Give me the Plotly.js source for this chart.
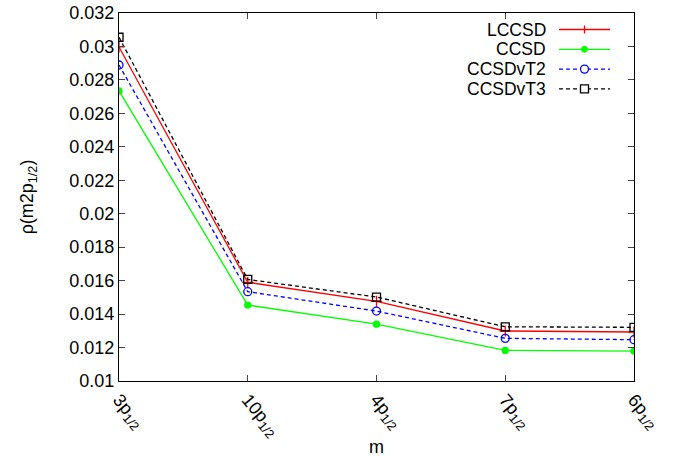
<!DOCTYPE html>
<html><head><meta charset="utf-8">
<script src="https://cdn.plot.ly/plotly-3.0.1.min.js"></script>
<style>body{margin:0;background:#fff}#chart{width:673px;height:457px}</style>
</head><body><div id="chart"></div>
<script>
const categories = ['3p<sub>1/2</sub>','10p<sub>1/2</sub>','4p<sub>1/2</sub>','7p<sub>1/2</sub>','6p<sub>1/2</sub>'];
const seriesNames = ['LCCSD','CCSD','CCSDvT2','CCSDvT3'];
const lccsd    = [0.02997, 0.01590, 0.01476, 0.01299, 0.01293];
const ccsd     = [0.02734, 0.01454, 0.01340, 0.01183, 0.01179];
const ccsdvt2  = [0.02889, 0.01534, 0.01418, 0.01255, 0.01247];
const ccsdvt3  = [0.03055, 0.01607, 0.01502, 0.01324, 0.01321];

const colors = ['#ff0000','#00ff00','#0000ff','#000000'];
const dashes = ['solid','solid','4px,3px','4px,3px'];
const symbols = ['cross-thin','circle','circle-open','square-open'];
const sizes = [8,6,8,8];
const values = [lccsd, ccsd, ccsdvt2, ccsdvt3];

const xs = categories.map((c,i)=>i);
const font = {family:'Liberation Sans, Arial, sans-serif', size:18, color:'#000'};
const legFont = {family:'Liberation Sans, Arial, sans-serif', size:17.5, color:'#000'};
const data = values.map((y,k)=>({x:xs, y:y, name:seriesNames[k], type:'scatter', mode:'lines+markers',
    showlegend:false,
    line:{color:colors[k], width:1.3, dash:dashes[k]},
    marker:{symbol:symbols[k], size:sizes[k], color:colors[k], line:{color:colors[k], width:1.3}}}));

// custom legend (text right-aligned, key sample to the right), in paper coordinates
const L = 119, W = 515, T = 13, H = 368;
const px = v => (v - L) / W, py = v => 1 - (v - T) / H;
const rowY = [29.5, 49.3, 69.1, 88.9];
const annotations = [], shapes = [];
seriesNames.forEach((n,k)=>{
  annotations.push({xref:'paper', yref:'paper', x:px(547), y:py(rowY[k]), xanchor:'right', yanchor:'middle',
    text:n, showarrow:false, font:legFont, borderpad:0});
  shapes.push({type:'line', xref:'paper', yref:'paper', x0:px(559), x1:px(610), y0:py(rowY[k]), y1:py(rowY[k]),
    line:{color:colors[k], width:1.3, dash:dashes[k]}});
});
const cx = px(584.5);
shapes.push({type:'line', xref:'paper', yref:'paper', xsizemode:'pixel', ysizemode:'pixel', xanchor:cx, yanchor:py(rowY[0]),
  x0:0, x1:0, y0:-4, y1:4, line:{color:colors[0], width:1.3}});
shapes.push({type:'circle', xref:'paper', yref:'paper', xsizemode:'pixel', ysizemode:'pixel', xanchor:cx, yanchor:py(rowY[1]),
  x0:-3, x1:3, y0:-3, y1:3, fillcolor:colors[1], line:{color:colors[1], width:1}});
shapes.push({type:'circle', xref:'paper', yref:'paper', xsizemode:'pixel', ysizemode:'pixel', xanchor:cx, yanchor:py(rowY[2]),
  x0:-4, x1:4, y0:-4, y1:4, fillcolor:'#fff', line:{color:colors[2], width:1.3}});
shapes.push({type:'rect', xref:'paper', yref:'paper', xsizemode:'pixel', ysizemode:'pixel', xanchor:cx, yanchor:py(rowY[3]),
  x0:-4, x1:4, y0:-4, y1:4, fillcolor:'#fff', line:{color:colors[3], width:1.3}});

const layout = {
  width:673, height:457, margin:{l:L, r:673-L-W, t:T, b:457-T-H},
  paper_bgcolor:'#fff', plot_bgcolor:'#fff', font:font, showlegend:false,
  annotations:annotations, shapes:shapes,
  xaxis:{range:[0,4], tickvals:xs, ticktext:categories, tickangle:50, ticks:'inside', ticklen:6,
    showline:true, mirror:'ticks', linecolor:'#000', linewidth:1.3, showgrid:false, zeroline:false,
    tickfont:font, title:{text:'m', font:font, standoff:8}},
  yaxis:{range:[0.01,0.032], dtick:0.002, tick0:0.01, ticks:'inside', ticklen:6,
    showline:true, mirror:'ticks', linecolor:'#000', linewidth:1.3, showgrid:false, zeroline:false,
    tickfont:font, title:{text:'ρ(m2p<sub>1/2</sub>)', font:font, standoff:30}}
};
Plotly.newPlot('chart', data, layout, {displayModeBar:false});
</script></body></html>
